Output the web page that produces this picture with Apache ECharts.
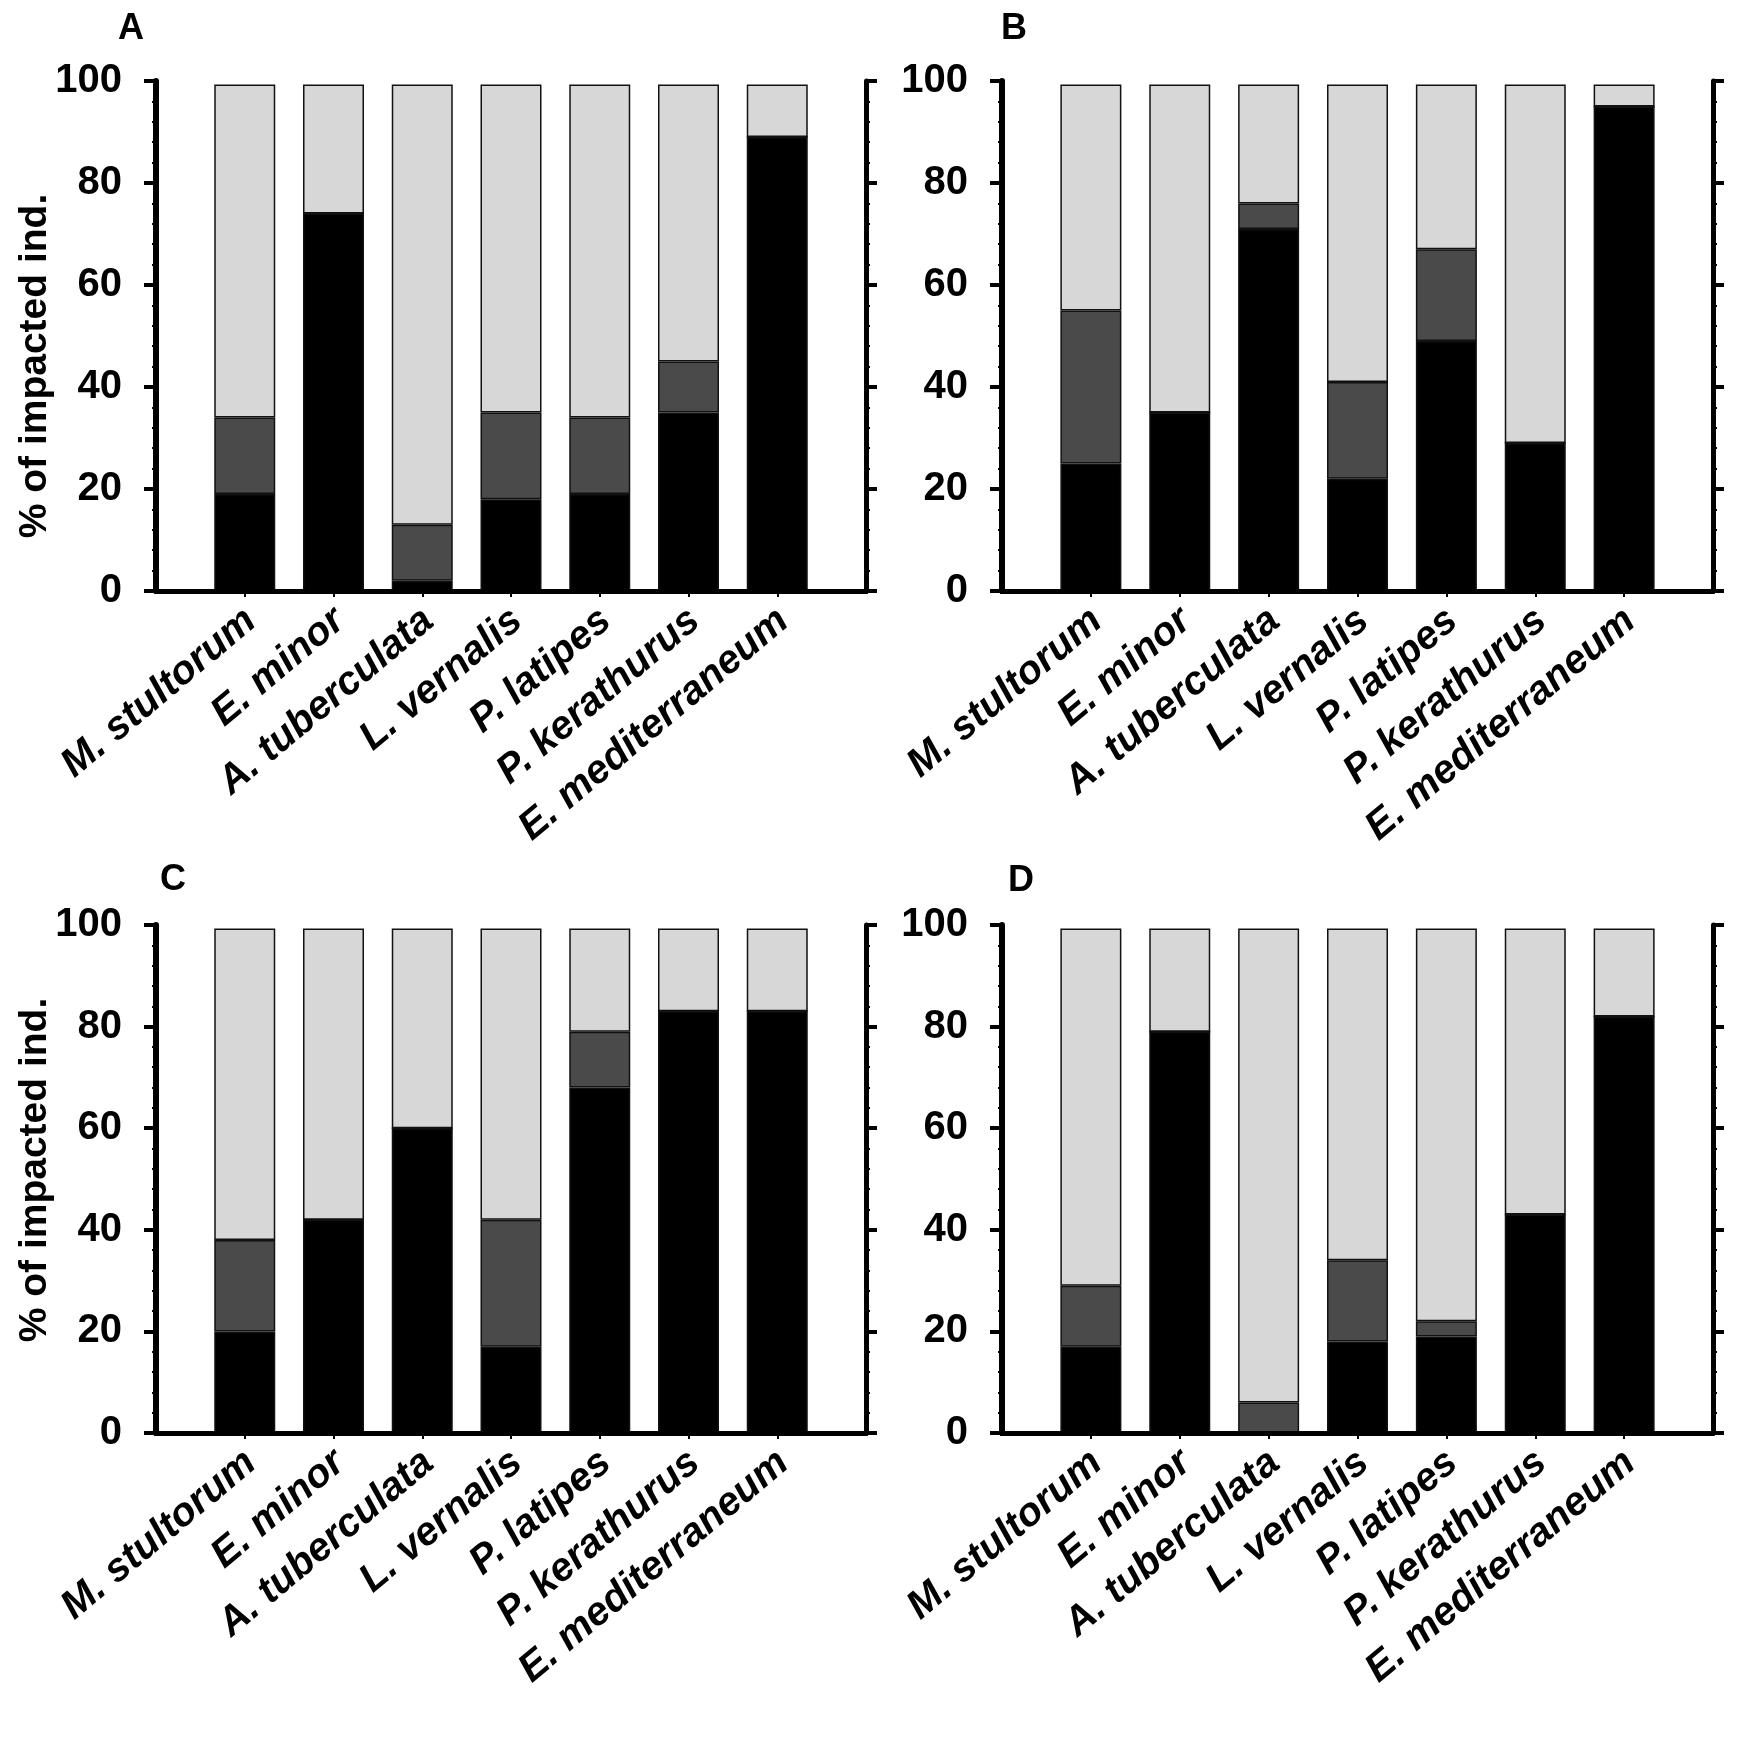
<!DOCTYPE html>
<html>
<head>
<meta charset="utf-8">
<script src="https://cdn.jsdelivr.net/npm/echarts@6/dist/echarts.min.js"></script>
<style>html,body{margin:0;padding:0;background:#fff}#c{width:1744px;height:1744px}</style>
</head>
<body>
<div id="c"></div>
<script>
var categories = ['M. stultorum', 'E. minor', 'A. tuberculata', 'L. vernalis', 'P. latipes', 'P. kerathurus', 'E. mediterraneum'];
var yTicks = [0, 20, 40, 60, 80, 100];
var panelLabels = ['A', 'B', 'C', 'D'];

var blackA = [19, 74, 2, 18, 19, 35, 89];
var darkA  = [15, 0, 11, 17, 15, 10, 0];
var lightA = [65.3, 25.3, 86.3, 64.3, 65.3, 54.3, 10.3];

var blackB = [25, 35, 71, 22, 49, 29, 95];
var darkB  = [30, 0, 5, 19, 18, 0, 0];
var lightB = [44.3, 64.3, 23.3, 58.3, 32.3, 70.3, 4.3];

var blackC = [20, 42, 60, 17, 68, 83, 83];
var darkC  = [18, 0, 0, 25, 11, 0, 0];
var lightC = [61.3, 57.3, 39.3, 57.3, 20.3, 16.3, 16.3];

var blackD = [17, 79, 0, 18, 19, 43, 82];
var darkD  = [12, 0, 6, 16, 3, 0, 0];
var lightD = [70.3, 20.3, 93.3, 65.3, 77.3, 56.3, 17.3];

var panels = [
  {black: blackA, dark: darkA, light: lightA},
  {black: blackB, dark: darkB, light: lightB},
  {black: blackC, dark: darkC, light: lightC},
  {black: blackD, dark: darkD, light: lightD}
];

var FONT = '"Liberation Sans", Arial, sans-serif';
var cats9 = [''].concat(categories).concat(['']);
function pad(arr) { return [null].concat(arr).concat([null]); }
function inner(i) { return i > 0 && i < cats9.length - 1; }

var grids = [
  {left: 156, width: 710, top: 81, height: 510},
  {left: 1002, width: 711, top: 81, height: 510},
  {left: 156, width: 710, top: 925, height: 508},
  {left: 1002, width: 711, top: 925, height: 508}
];

var xAxes = [], yAxes = [], series = [];
grids.forEach(function (g, k) {
  xAxes.push({
    type: 'category', gridIndex: k, data: cats9, boundaryGap: false, position: 'bottom', z: 5,
    axisLine: {show: true, lineStyle: {color: '#000', width: 5}},
    axisTick: {show: true, inside: false, length: 6, interval: function (i) { return inner(i); }, lineStyle: {color: '#000', width: 2}},
    axisLabel: {show: true, rotate: 40, interval: function (i) { return inner(i); }, margin: 30, padding: [0, -8, 0, 0],
      color: '#000', fontSize: 40, fontWeight: 'bold', fontStyle: 'italic', fontFamily: FONT},
    splitLine: {show: false}
  });
  xAxes.push({
    type: 'category', gridIndex: k, data: cats9, boundaryGap: false, position: 'top', z: 5,
    axisLine: {show: true, lineStyle: {color: '#000', width: 5}},
    axisTick: {show: false}, axisLabel: {show: false}, splitLine: {show: false}
  });
  yAxes.push({
    type: 'value', gridIndex: k, min: yTicks[0], max: yTicks[yTicks.length - 1], interval: yTicks[1] - yTicks[0], position: 'left', z: 5,
    axisLine: {show: true, lineStyle: {color: '#000', width: 6}},
    axisTick: {show: true, inside: false, length: 12, lineStyle: {color: '#000', width: 4}},
    minorTick: {show: true, splitNumber: 5, length: 4, lineStyle: {color: '#000', width: 2}},
    axisLabel: {show: true, margin: 34, color: '#000', fontSize: 40, fontWeight: 'bold', fontFamily: FONT},
    splitLine: {show: false}
  });
  yAxes.push({
    type: 'value', gridIndex: k, min: yTicks[0], max: yTicks[yTicks.length - 1], interval: yTicks[1] - yTicks[0], position: 'right', z: 5,
    axisLine: {show: true, lineStyle: {color: '#000', width: 5}},
    axisTick: {show: true, inside: false, length: 11, lineStyle: {color: '#000', width: 4}},
    minorTick: {show: true, splitNumber: 5, length: 4, lineStyle: {color: '#000', width: 2}},
    axisLabel: {show: false}, splitLine: {show: false}
  });
  var p = panels[k];
  var defs = [[p.black, '#000000'], [p.dark, '#4a4a4a'], [p.light, '#d7d7d7']];
  defs.forEach(function (d) {
    series.push({
      type: 'bar', xAxisIndex: 2 * k, yAxisIndex: 2 * k, stack: 'p' + k, barWidth: 61,
      data: pad(d[0]), animation: false,
      itemStyle: {color: d[1], borderColor: '#111', borderWidth: 1.5}
    });
  });
});

var letterPos = [[118, 29], [1001, 29], [160, 880], [1008, 881]];
var graphics = panelLabels.map(function (t, i) {
  return {type: 'text', x: letterPos[i][0], y: letterPos[i][1],
    style: {text: t, font: 'bold 36px ' + FONT, fill: '#000', textAlign: 'left', textVerticalAlign: 'middle'}};
});
[[35, 366], [35, 1170]].forEach(function (pos) {
  graphics.push({type: 'text', x: pos[0], y: pos[1], rotation: Math.PI / 2,
    style: {text: '% of impacted ind.', font: 'bold 39px ' + FONT, fill: '#000', textAlign: 'center', textVerticalAlign: 'middle'}});
});

var chart = echarts.init(document.getElementById('c'), null, {renderer: 'canvas'});
chart.setOption({
  animation: false,
  backgroundColor: '#fff',
  grid: grids,
  xAxis: xAxes,
  yAxis: yAxes,
  series: series,
  graphic: graphics
});
</script>
</body>
</html>
